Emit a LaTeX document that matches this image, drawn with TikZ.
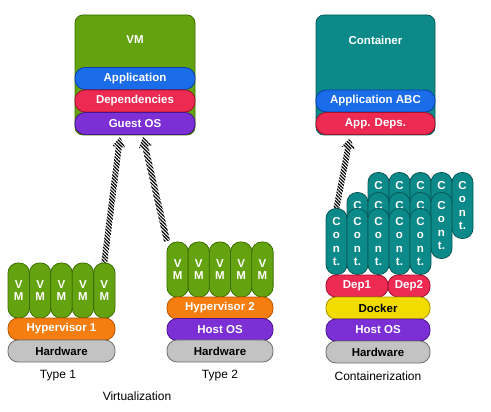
\documentclass[tikz,border=0pt]{standalone}
\usepackage{fontspec}
\setmainfont{Liberation Sans}
\usetikzlibrary{patterns.meta,calc}
\definecolor{vmgreen}{HTML}{64A30F}
\definecolor{vmgreenD}{HTML}{3B6E00}
\definecolor{appblue}{HTML}{1B6CE8}
\definecolor{appblueD}{HTML}{0A3FA8}
\definecolor{depred}{HTML}{EC2A52}
\definecolor{depredD}{HTML}{A3102F}
\definecolor{osviolet}{HTML}{7D2FD6}
\definecolor{osvioletD}{HTML}{4A148C}
\definecolor{hvorange}{HTML}{F67E11}
\definecolor{hvorangeD}{HTML}{B85400}
\definecolor{hwgray}{HTML}{C3C3C3}
\definecolor{hwgrayD}{HTML}{707070}
\definecolor{dockyellow}{HTML}{F2DB00}
\definecolor{dockyellowD}{HTML}{A89200}
\definecolor{ctteal}{HTML}{0C8A8A}
\definecolor{cttealD}{HTML}{0A5858}
\tikzset{
  bigbox/.style={draw, rounded corners=8pt, line width=0.8pt, inner sep=0pt},
  band/.style={draw, rounded corners=10pt, line width=0.8pt, inner sep=0pt,
    minimum height=22pt, font=\fontsize{11.5}{13}\selectfont\bfseries, text=white},
  pill/.style={draw, rounded corners=10pt, line width=0.8pt, inner sep=0pt,
    minimum width=21.4pt, align=center, text=white},
  vmpill/.style={pill, fill=vmgreen, draw=vmgreenD, minimum height=55pt,
    font=\fontsize{11.5}{12}\selectfont\bfseries},
  ctpill/.style={pill, fill=ctteal, draw=cttealD, minimum height=66pt,
    minimum width=21pt, font=\fontsize{11.5}{13.5}\selectfont\bfseries},
  caption/.style={font=\fontsize{12}{14}\selectfont, text=black, inner sep=0pt},
  hatch/.style={pattern={Lines[angle=-45,distance=2.4pt,line width=1.2pt]}, pattern color=black}
}
\newcommand\hatcharrow[2]{%
  \path[hatch] let \p1=#1, \p2=#2, \n1={atan2(\y2-\y1,\x2-\x1)}, \n2={veclen(\x2-\x1,\y2-\y1)} in
    [shift={(\p1)}, rotate=\n1] (0pt,-3pt) -- (\n2-10pt,-3pt) -- (\n2-10pt,-6.5pt) -- (\n2,0pt)
    -- (\n2-10pt,6.5pt) -- (\n2-10pt,3pt) -- (0pt,3pt) -- cycle;}
\begin{document}
\begin{tikzpicture}[x=1pt,y=-1pt]
\path[use as bounding box, fill=white] (0,0) rectangle (491,412);

% ---------- VM box ----------
\node[bigbox, fill=vmgreen, draw=vmgreenD, minimum width=120pt, minimum height=120pt] (vmbox) at (135,75) {};
\node[font=\fontsize{11.5}{13}\selectfont\bfseries, text=white] (vmlbl) at (135,40) {VM};
\node[band, fill=appblue, draw=appblueD, minimum width=120pt] (app) at (135,78.5) {Application};
\node[band, fill=depred, draw=depredD, minimum width=120pt] (deps) at (135,101) {Dependencies};
\node[band, fill=osviolet, draw=osvioletD, minimum width=120pt] (guest) at (135,123.5) {Guest OS};

% ---------- Container box ----------
\node[bigbox, fill=ctteal, draw=cttealD, minimum width=119pt, minimum height=120pt] (ctbox) at (375.5,75) {};
\node[font=\fontsize{11.5}{13}\selectfont\bfseries, text=white] (ctlbl) at (375.5,40) {Container};
\node[band, fill=appblue, draw=appblueD, minimum width=119pt] (appabc) at (375.5,101) {Application ABC};
\node[band, fill=depred, draw=depredD, minimum width=119pt] (appdeps) at (375.5,123.5) {App. Deps.};

% ---------- Type 1 ----------
\foreach \i/\x in {1/18.7,2/40.1,3/61.5,4/82.9,5/104.3}
  \node[vmpill] (ta\i) at (\x,290.5) {V\\M};
\node[band, fill=hvorange, draw=hvorangeD, minimum width=107pt] (hv1) at (61.5,329) {Hypervisor 1};
\node[band, fill=hwgray, draw=hwgrayD, text=black, minimum width=107pt] (hw1) at (61.5,351) {Hardware};
\node[caption] (type1) at (58,376) {Type 1};

% ---------- Type 2 ----------
\foreach \i/\x in {1/177.6,2/198.8,3/220,4/241.2,5/262.4}
  \node[vmpill] (tb\i) at (\x,269.5) {V\\M};
\node[band, fill=hvorange, draw=hvorangeD, minimum width=106pt] (hv2) at (220,308) {Hypervisor 2};
\node[band, fill=osviolet, draw=osvioletD, minimum width=106pt] (host2) at (220,329.5) {Host OS};
\node[band, fill=hwgray, draw=hwgrayD, text=black, minimum width=106pt] (hw2) at (220,351) {Hardware};
\node[caption] (type2) at (220,376) {Type 2};

\node[caption] (virt) at (137,396) {Virtualization};

% ---------- Containerization ----------
\foreach \i/\x in {1/378.5,2/399.5,3/420.5,4/441.5,5/462.5}
  \node[ctpill] (cc\i) at (\x,205.5) {C\\o\\n\\t.};
\foreach \i/\x in {1/357.5,2/378.5,3/399.5,4/420.5,5/441.5}
  \node[ctpill] (cb\i) at (\x,225.5) {C\\o\\n\\t.};
\foreach \i/\x in {1/336.5,2/357.5,3/378.5,4/399.5,5/420.5}
  \node[ctpill] (ca\i) at (\x,241.5) {C\\o\\n\\t.};
\node[band, fill=depred, draw=depredD, minimum width=62pt] (dep1) at (357,286) {Dep1};
\node[band, fill=depred, draw=depredD, minimum width=42pt] (dep2) at (409,286) {Dep2};
\node[band, fill=dockyellow, draw=dockyellowD, text=black, minimum width=104pt] (docker) at (378,308) {Docker};
\node[band, fill=osviolet, draw=osvioletD, minimum width=104pt] (host3) at (378,330) {Host OS};
\node[band, fill=hwgray, draw=hwgrayD, text=black, minimum width=104pt] (hw3) at (378,352) {Hardware};
\node[caption] (contz) at (378,376) {Containerization};

% ---------- arrows ----------
\coordinate (e1) at (120,137);
\coordinate (e2) at (143,137);
\coordinate (e3) at (350,138);
\coordinate (s2) at (167,241);
\hatcharrow{(ta5.north)}{(e1)}
\hatcharrow{(s2)}{(e2)}
\hatcharrow{(ca1.north)}{(e3)}
\end{tikzpicture}
\end{document}
